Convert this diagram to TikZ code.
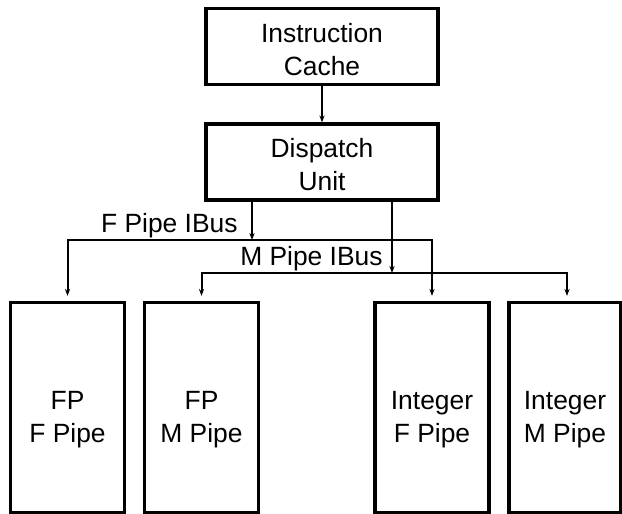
\documentclass[tikz,border=0pt]{standalone}
\usepackage{fontspec}
\setmainfont{Liberation Sans}
\usetikzlibrary{arrows.meta}

\tikzset{
  unit/.style={
    draw,
    line width=1.6pt,
    minimum width=116pt,
    minimum height=38pt,
    inner sep=0pt,
  },
  pipe/.style={
    draw,
    line width=1.6pt,
    minimum width=57pt,
    minimum height=105pt,
    inner sep=0pt,
  },
  pipe text/.style={
    align=center,
    yshift=-6pt,
  },
  unit text/.style={
    align=center,
    yshift=-1.5pt,
  },
  bus/.style={
    line width=1pt,
    -{Stealth[length=3.5pt, width=2.6pt]},
  },
  bus label/.style={
    anchor=base east,
    inner sep=0pt,
  },
}

\begin{document}
\begin{tikzpicture}[x=0.5pt, y=-0.5pt, font=\fontsize{13.2}{16.5}\selectfont]

      \useasboundingbox (0,0) rectangle (622,514);

      \node[unit, label={[unit text]center:{Instruction\\Cache}}](ic) at (322,46.5) {};
      \node[unit, label={[unit text]center:{Dispatch\\Unit}}](du) at (322,162) {};

      \node[pipe, label={[pipe text]center:{FP\\F Pipe}}](fpf) at (67.5,407.5) {};
      \node[pipe, label={[pipe text]center:{FP\\M Pipe}}](fpm) at (201.5,407.5) {};
      \node[pipe, label={[pipe text]center:{Integer\\F Pipe}}](intf) at (432,407.5) {};
      \node[pipe, minimum width=56pt, label={[pipe text]center:{Integer\\M Pipe}}](intm) at (565,407.5) {};

      % the two instruction buses
      \coordinate (fbus) at (252,240);
      \coordinate (mbus) at (392,273);

      \draw[bus] (ic) -- (du);
      \draw[bus] (du.south -| fbus) -- (fbus);
      \draw[bus] (du.south -| mbus) -- (mbus);

      \draw[bus] (fbus) -| ([yshift=2.5pt] fpf.north);
      \draw[bus] (fbus) -| ([yshift=2.5pt] intf.north);
      \draw[bus] (mbus) -| ([yshift=2.5pt] fpm.north);
      \draw[bus] (mbus) -| ([xshift=1pt, yshift=2.5pt] intm.north);

      \node[bus label](flbl) at ([xshift=-7pt, yshift=4pt] fbus) {F Pipe IBus};
      \node[bus label](mlbl) at ([xshift=-4.5pt, yshift=4pt] mbus) {M Pipe IBus};

\end{tikzpicture}
\end{document}
